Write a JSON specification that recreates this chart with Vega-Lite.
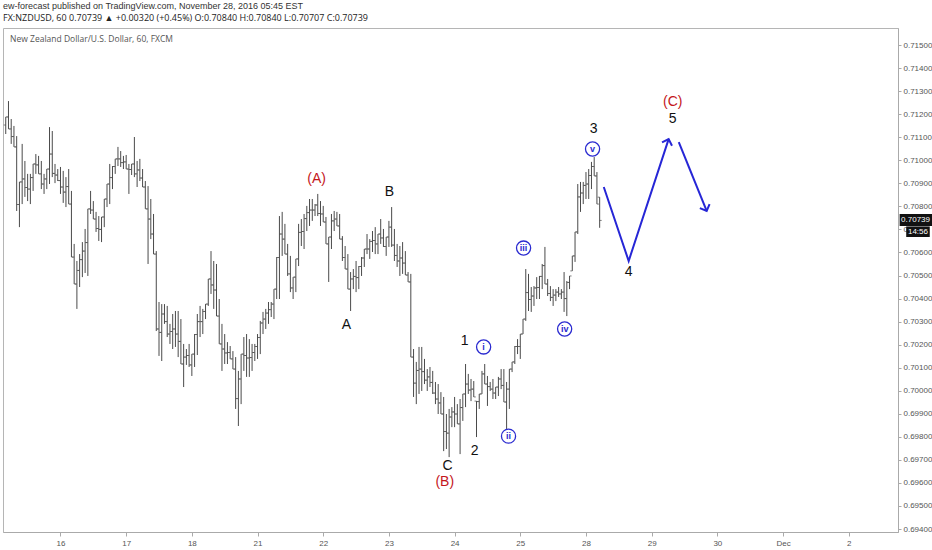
{
"$schema":"https://vega.github.io/schema/vega-lite/v6.json",
"width":895,"height":504,
"padding":{"left":3,"top":2,"right":0,"bottom":0},
"background":"white",
"title":{"text":"ew-forecast published on TradingView.com, November 28, 2016 05:45 EST","subtitle":"FX:NZDUSD, 60  0.70739 ▲ +0.00320 (+0.45%)  O:0.70840  H:0.70840  L:0.70707  C:0.70739","anchor":"start","frame":"group","fontSize":9,"fontWeight":"normal","color":"#333","font":"Liberation Sans Narrow, Liberation Sans","subtitleFont":"Open Sans","subtitleFontSize":9,"subtitleColor":"#222","subtitlePadding":3,"offset":5},
"config":{"view":{"stroke":"#b5b5b5"},"font":"Liberation Sans","axis":{"labelOverlap":false,"labelBound":false,"labelFlush":false},"axisY":{"labelOverlap":false,"tickCount":22,"format":".5f"}},
"datasets":{
"bars":[
{"h":-20,"o":0.71153,"hi":0.71188,"lo":0.71114,"c":0.71188},
{"h":-19,"o":0.71188,"hi":0.71257,"lo":0.71136,"c":0.71136},
{"h":-18,"o":0.71136,"hi":0.71179,"lo":0.71071,"c":0.71103},
{"h":-17,"o":0.71103,"hi":0.71149,"lo":0.71058,"c":0.71058},
{"h":-16,"o":0.71058,"hi":0.71105,"lo":0.70780,"c":0.70808},
{"h":-15,"o":0.70808,"hi":0.70906,"lo":0.70710,"c":0.70906},
{"h":-14,"o":0.70906,"hi":0.71071,"lo":0.70810,"c":0.70919},
{"h":-13,"o":0.70919,"hi":0.70997,"lo":0.70841,"c":0.70882},
{"h":-12,"o":0.70882,"hi":0.70941,"lo":0.70823,"c":0.70875},
{"h":-11,"o":0.70875,"hi":0.70941,"lo":0.70810,"c":0.70925},
{"h":-10,"o":0.70925,"hi":0.70984,"lo":0.70867,"c":0.70984},
{"h":-9,"o":0.70984,"hi":0.71027,"lo":0.70941,"c":0.70980},
{"h":-8,"o":0.70980,"hi":0.71019,"lo":0.70941,"c":0.70941},
{"h":-7,"o":0.70941,"hi":0.70997,"lo":0.70875,"c":0.70897},
{"h":-6,"o":0.70897,"hi":0.70941,"lo":0.70854,"c":0.70919},
{"h":-5,"o":0.70919,"hi":0.70962,"lo":0.70875,"c":0.70962},
{"h":-4,"o":0.70962,"hi":0.71144,"lo":0.70897,"c":0.71027},
{"h":-3,"o":0.71027,"hi":0.71127,"lo":0.70927,"c":0.70943},
{"h":-2,"o":0.70943,"hi":0.70984,"lo":0.70901,"c":0.70936},
{"h":-1,"o":0.70936,"hi":0.70962,"lo":0.70910,"c":0.70912},
{"h":0,"o":0.70912,"hi":0.70971,"lo":0.70854,"c":0.70884},
{"h":1,"o":0.70884,"hi":0.70954,"lo":0.70815,"c":0.70862},
{"h":2,"o":0.70862,"hi":0.70927,"lo":0.70797,"c":0.70886},
{"h":3,"o":0.70886,"hi":0.70962,"lo":0.70810,"c":0.70810},
{"h":4,"o":0.70810,"hi":0.70867,"lo":0.70580,"c":0.70580},
{"h":5,"o":0.70580,"hi":0.70637,"lo":0.70463,"c":0.70463},
{"h":6,"o":0.70463,"hi":0.70563,"lo":0.70355,"c":0.70522},
{"h":7,"o":0.70522,"hi":0.70593,"lo":0.70450,"c":0.70569},
{"h":8,"o":0.70569,"hi":0.70645,"lo":0.70493,"c":0.70606},
{"h":9,"o":0.70606,"hi":0.70702,"lo":0.70511,"c":0.70643},
{"h":10,"o":0.70643,"hi":0.70789,"lo":0.70498,"c":0.70789},
{"h":11,"o":0.70789,"hi":0.70867,"lo":0.70767,"c":0.70784},
{"h":12,"o":0.70784,"hi":0.70823,"lo":0.70745,"c":0.70745},
{"h":13,"o":0.70745,"hi":0.70776,"lo":0.70689,"c":0.70704},
{"h":14,"o":0.70704,"hi":0.70758,"lo":0.70650,"c":0.70700},
{"h":15,"o":0.70700,"hi":0.70754,"lo":0.70645,"c":0.70754},
{"h":16,"o":0.70754,"hi":0.70832,"lo":0.70710,"c":0.70832},
{"h":17,"o":0.70832,"hi":0.70897,"lo":0.70797,"c":0.70897},
{"h":18,"o":0.70897,"hi":0.70984,"lo":0.70810,"c":0.70925},
{"h":19,"o":0.70925,"hi":0.70975,"lo":0.70875,"c":0.70973},
{"h":20,"o":0.70973,"hi":0.71006,"lo":0.70941,"c":0.71006},
{"h":21,"o":0.71006,"hi":0.71058,"lo":0.70975,"c":0.71006},
{"h":22,"o":0.71006,"hi":0.71040,"lo":0.70971,"c":0.70990},
{"h":23,"o":0.70990,"hi":0.71019,"lo":0.70962,"c":0.70993},
{"h":24,"o":0.70993,"hi":0.71023,"lo":0.70962,"c":0.70962},
{"h":25,"o":0.70962,"hi":0.70984,"lo":0.70854,"c":0.70960},
{"h":26,"o":0.70960,"hi":0.70984,"lo":0.70936,"c":0.70984},
{"h":27,"o":0.70984,"hi":0.71101,"lo":0.70927,"c":0.70941},
{"h":28,"o":0.70941,"hi":0.70997,"lo":0.70884,"c":0.70958},
{"h":29,"o":0.70958,"hi":0.71006,"lo":0.70910,"c":0.70923},
{"h":30,"o":0.70923,"hi":0.70962,"lo":0.70884,"c":0.70884},
{"h":31,"o":0.70884,"hi":0.70910,"lo":0.70789,"c":0.70789},
{"h":32,"o":0.70789,"hi":0.70888,"lo":0.70550,"c":0.70745},
{"h":33,"o":0.70745,"hi":0.70832,"lo":0.70658,"c":0.70680},
{"h":34,"o":0.70680,"hi":0.70767,"lo":0.70593,"c":0.70593},
{"h":35,"o":0.70593,"hi":0.70606,"lo":0.70259,"c":0.70268},
{"h":36,"o":0.70268,"hi":0.70385,"lo":0.70151,"c":0.70253},
{"h":37,"o":0.70253,"hi":0.70376,"lo":0.70129,"c":0.70333},
{"h":38,"o":0.70333,"hi":0.70376,"lo":0.70290,"c":0.70300},
{"h":39,"o":0.70300,"hi":0.70368,"lo":0.70233,"c":0.70246},
{"h":40,"o":0.70246,"hi":0.70290,"lo":0.70203,"c":0.70257},
{"h":41,"o":0.70257,"hi":0.70333,"lo":0.70181,"c":0.70268},
{"h":42,"o":0.70268,"hi":0.70346,"lo":0.70190,"c":0.70246},
{"h":43,"o":0.70246,"hi":0.70346,"lo":0.70146,"c":0.70214},
{"h":44,"o":0.70214,"hi":0.70311,"lo":0.70116,"c":0.70116},
{"h":45,"o":0.70116,"hi":0.70203,"lo":0.70016,"c":0.70146},
{"h":46,"o":0.70146,"hi":0.70181,"lo":0.70112,"c":0.70153},
{"h":47,"o":0.70153,"hi":0.70203,"lo":0.70103,"c":0.70112},
{"h":48,"o":0.70112,"hi":0.70159,"lo":0.70064,"c":0.70159},
{"h":49,"o":0.70159,"hi":0.70246,"lo":0.70103,"c":0.70244},
{"h":50,"o":0.70244,"hi":0.70333,"lo":0.70155,"c":0.70300},
{"h":51,"o":0.70300,"hi":0.70368,"lo":0.70233,"c":0.70300},
{"h":52,"o":0.70300,"hi":0.70355,"lo":0.70246,"c":0.70344},
{"h":53,"o":0.70344,"hi":0.70376,"lo":0.70311,"c":0.70376},
{"h":54,"o":0.70376,"hi":0.70485,"lo":0.70368,"c":0.70485},
{"h":55,"o":0.70485,"hi":0.70606,"lo":0.70420,"c":0.70459},
{"h":56,"o":0.70459,"hi":0.70563,"lo":0.70355,"c":0.70437},
{"h":57,"o":0.70437,"hi":0.70550,"lo":0.70324,"c":0.70324},
{"h":58,"o":0.70324,"hi":0.70398,"lo":0.70203,"c":0.70203},
{"h":59,"o":0.70203,"hi":0.70290,"lo":0.70086,"c":0.70181},
{"h":60,"o":0.70181,"hi":0.70246,"lo":0.70116,"c":0.70164},
{"h":61,"o":0.70164,"hi":0.70211,"lo":0.70116,"c":0.70166},
{"h":62,"o":0.70166,"hi":0.70194,"lo":0.70138,"c":0.70138},
{"h":63,"o":0.70138,"hi":0.70172,"lo":0.70094,"c":0.70094},
{"h":64,"o":0.70094,"hi":0.70146,"lo":0.69921,"c":0.69966},
{"h":65,"o":0.69966,"hi":0.70086,"lo":0.69847,"c":0.70051},
{"h":66,"o":0.70051,"hi":0.70159,"lo":0.69942,"c":0.70159},
{"h":67,"o":0.70159,"hi":0.70233,"lo":0.70086,"c":0.70153},
{"h":68,"o":0.70153,"hi":0.70246,"lo":0.70060,"c":0.70142},
{"h":69,"o":0.70142,"hi":0.70224,"lo":0.70060,"c":0.70144},
{"h":70,"o":0.70144,"hi":0.70203,"lo":0.70086,"c":0.70166},
{"h":71,"o":0.70166,"hi":0.70203,"lo":0.70129,"c":0.70192},
{"h":72,"o":0.70192,"hi":0.70246,"lo":0.70138,"c":0.70231},
{"h":73,"o":0.70231,"hi":0.70303,"lo":0.70159,"c":0.70294},
{"h":74,"o":0.70294,"hi":0.70342,"lo":0.70246,"c":0.70311},
{"h":75,"o":0.70311,"hi":0.70355,"lo":0.70268,"c":0.70337},
{"h":76,"o":0.70337,"hi":0.70385,"lo":0.70290,"c":0.70352},
{"h":77,"o":0.70352,"hi":0.70385,"lo":0.70320,"c":0.70376},
{"h":78,"o":0.70376,"hi":0.70441,"lo":0.70311,"c":0.70441},
{"h":79,"o":0.70441,"hi":0.70580,"lo":0.70398,"c":0.70578},
{"h":80,"o":0.70578,"hi":0.70758,"lo":0.70398,"c":0.70680},
{"h":81,"o":0.70680,"hi":0.70776,"lo":0.70585,"c":0.70658},
{"h":82,"o":0.70658,"hi":0.70724,"lo":0.70593,"c":0.70593},
{"h":83,"o":0.70593,"hi":0.70637,"lo":0.70498,"c":0.70507},
{"h":84,"o":0.70507,"hi":0.70585,"lo":0.70428,"c":0.70446},
{"h":85,"o":0.70446,"hi":0.70493,"lo":0.70398,"c":0.70493},
{"h":86,"o":0.70493,"hi":0.70572,"lo":0.70428,"c":0.70572},
{"h":87,"o":0.70572,"hi":0.70724,"lo":0.70541,"c":0.70687},
{"h":88,"o":0.70687,"hi":0.70745,"lo":0.70628,"c":0.70691},
{"h":89,"o":0.70691,"hi":0.70767,"lo":0.70615,"c":0.70747},
{"h":90,"o":0.70747,"hi":0.70802,"lo":0.70693,"c":0.70773},
{"h":91,"o":0.70773,"hi":0.70832,"lo":0.70715,"c":0.70784},
{"h":92,"o":0.70784,"hi":0.70832,"lo":0.70737,"c":0.70784},
{"h":93,"o":0.70784,"hi":0.70810,"lo":0.70758,"c":0.70806},
{"h":94,"o":0.70806,"hi":0.70854,"lo":0.70758,"c":0.70769},
{"h":95,"o":0.70769,"hi":0.70823,"lo":0.70715,"c":0.70767},
{"h":96,"o":0.70767,"hi":0.70802,"lo":0.70732,"c":0.70732},
{"h":97,"o":0.70732,"hi":0.70754,"lo":0.70637,"c":0.70637},
{"h":98,"o":0.70637,"hi":0.70667,"lo":0.70472,"c":0.70667},
{"h":99,"o":0.70667,"hi":0.70767,"lo":0.70615,"c":0.70737},
{"h":100,"o":0.70737,"hi":0.70780,"lo":0.70693,"c":0.70745},
{"h":101,"o":0.70745,"hi":0.70776,"lo":0.70715,"c":0.70715},
{"h":102,"o":0.70715,"hi":0.70767,"lo":0.70658,"c":0.70658},
{"h":103,"o":0.70658,"hi":0.70671,"lo":0.70563,"c":0.70578},
{"h":104,"o":0.70578,"hi":0.70628,"lo":0.70528,"c":0.70528},
{"h":105,"o":0.70528,"hi":0.70593,"lo":0.70441,"c":0.70441},
{"h":106,"o":0.70441,"hi":0.70515,"lo":0.70346,"c":0.70485},
{"h":107,"o":0.70485,"hi":0.70528,"lo":0.70441,"c":0.70496},
{"h":108,"o":0.70496,"hi":0.70563,"lo":0.70428,"c":0.70491},
{"h":109,"o":0.70491,"hi":0.70541,"lo":0.70441,"c":0.70539},
{"h":110,"o":0.70539,"hi":0.70580,"lo":0.70498,"c":0.70576},
{"h":111,"o":0.70576,"hi":0.70615,"lo":0.70537,"c":0.70615},
{"h":112,"o":0.70615,"hi":0.70680,"lo":0.70593,"c":0.70615},
{"h":113,"o":0.70615,"hi":0.70658,"lo":0.70572,"c":0.70648},
{"h":114,"o":0.70648,"hi":0.70693,"lo":0.70602,"c":0.70652},
{"h":115,"o":0.70652,"hi":0.70710,"lo":0.70593,"c":0.70637},
{"h":116,"o":0.70637,"hi":0.70680,"lo":0.70593,"c":0.70680},
{"h":117,"o":0.70680,"hi":0.70745,"lo":0.70637,"c":0.70663},
{"h":118,"o":0.70663,"hi":0.70702,"lo":0.70624,"c":0.70626},
{"h":119,"o":0.70626,"hi":0.70667,"lo":0.70585,"c":0.70667},
{"h":120,"o":0.70667,"hi":0.70737,"lo":0.70624,"c":0.70710},
{"h":121,"o":0.70710,"hi":0.70797,"lo":0.70624,"c":0.70632},
{"h":122,"o":0.70632,"hi":0.70702,"lo":0.70563,"c":0.70587},
{"h":123,"o":0.70587,"hi":0.70637,"lo":0.70537,"c":0.70563},
{"h":124,"o":0.70563,"hi":0.70628,"lo":0.70498,"c":0.70576},
{"h":125,"o":0.70576,"hi":0.70645,"lo":0.70507,"c":0.70554},
{"h":126,"o":0.70554,"hi":0.70606,"lo":0.70502,"c":0.70502},
{"h":127,"o":0.70502,"hi":0.70515,"lo":0.70472,"c":0.70472},
{"h":128,"o":0.70472,"hi":0.70507,"lo":0.70146,"c":0.70146},
{"h":129,"o":0.70146,"hi":0.70181,"lo":0.69973,"c":0.70033},
{"h":130,"o":0.70033,"hi":0.70125,"lo":0.69942,"c":0.70088},
{"h":131,"o":0.70088,"hi":0.70190,"lo":0.69986,"c":0.70094},
{"h":132,"o":0.70094,"hi":0.70190,"lo":0.69999,"c":0.70083},
{"h":133,"o":0.70083,"hi":0.70138,"lo":0.70029,"c":0.70046},
{"h":134,"o":0.70046,"hi":0.70094,"lo":0.69999,"c":0.70060},
{"h":135,"o":0.70060,"hi":0.70103,"lo":0.70016,"c":0.70036},
{"h":136,"o":0.70036,"hi":0.70086,"lo":0.69986,"c":0.69990},
{"h":137,"o":0.69990,"hi":0.70038,"lo":0.69942,"c":0.69964},
{"h":138,"o":0.69964,"hi":0.70029,"lo":0.69899,"c":0.69947},
{"h":139,"o":0.69947,"hi":0.69994,"lo":0.69899,"c":0.69899},
{"h":140,"o":0.69899,"hi":0.69973,"lo":0.69738,"c":0.69823},
{"h":141,"o":0.69823,"hi":0.69899,"lo":0.69747,"c":0.69816},
{"h":142,"o":0.69816,"hi":0.69921,"lo":0.69712,"c":0.69886},
{"h":143,"o":0.69886,"hi":0.69929,"lo":0.69842,"c":0.69908},
{"h":144,"o":0.69908,"hi":0.69973,"lo":0.69842,"c":0.69899},
{"h":145,"o":0.69899,"hi":0.69942,"lo":0.69856,"c":0.69856},
{"h":146,"o":0.69856,"hi":0.69964,"lo":0.69725,"c":0.69927},
{"h":147,"o":0.69927,"hi":0.69986,"lo":0.69869,"c":0.69986},
{"h":148,"o":0.69986,"hi":0.70116,"lo":0.69929,"c":0.70029},
{"h":149,"o":0.70029,"hi":0.70073,"lo":0.69986,"c":0.70003},
{"h":150,"o":0.70003,"hi":0.70051,"lo":0.69955,"c":0.70007},
{"h":151,"o":0.70007,"hi":0.70042,"lo":0.69973,"c":0.69973},
{"h":152,"o":0.69955,"hi":0.69955,"lo":0.69799,"c":0.69953},
{"h":153,"o":0.69953,"hi":0.69986,"lo":0.69921,"c":0.69986},
{"h":154,"o":0.69986,"hi":0.70086,"lo":0.69986,"c":0.70073},
{"h":155,"o":0.70073,"hi":0.70116,"lo":0.70029,"c":0.70029},
{"h":156,"o":0.70029,"hi":0.70064,"lo":0.69934,"c":0.70018},
{"h":157,"o":0.70018,"hi":0.70038,"lo":0.69999,"c":0.70007},
{"h":158,"o":0.70007,"hi":0.70051,"lo":0.69964,"c":0.69990},
{"h":159,"o":0.69990,"hi":0.70016,"lo":0.69964,"c":0.70016},
{"h":160,"o":0.70016,"hi":0.70060,"lo":0.69977,"c":0.70051},
{"h":161,"o":0.70051,"hi":0.70094,"lo":0.70007,"c":0.70023},
{"h":162,"o":0.70023,"hi":0.70094,"lo":0.69951,"c":0.69951},
{"h":163,"o":0.69951,"hi":0.70038,"lo":0.69834,"c":0.70007},
{"h":164,"o":0.70007,"hi":0.70094,"lo":0.69921,"c":0.70094},
{"h":165,"o":0.70094,"hi":0.70125,"lo":0.70081,"c":0.70125},
{"h":166,"o":0.70125,"hi":0.70194,"lo":0.70116,"c":0.70192},
{"h":167,"o":0.70192,"hi":0.70224,"lo":0.70159,"c":0.70192},
{"h":168,"o":0.70192,"hi":0.70246,"lo":0.70138,"c":0.70246},
{"h":169,"o":0.70246,"hi":0.70311,"lo":0.70246,"c":0.70311},
{"h":170,"o":0.70311,"hi":0.70528,"lo":0.70303,"c":0.70426},
{"h":171,"o":0.70426,"hi":0.70507,"lo":0.70346,"c":0.70396},
{"h":172,"o":0.70396,"hi":0.70450,"lo":0.70342,"c":0.70411},
{"h":173,"o":0.70411,"hi":0.70454,"lo":0.70368,"c":0.70446},
{"h":174,"o":0.70446,"hi":0.70493,"lo":0.70398,"c":0.70448},
{"h":175,"o":0.70448,"hi":0.70498,"lo":0.70398,"c":0.70496},
{"h":176,"o":0.70496,"hi":0.70550,"lo":0.70441,"c":0.70543},
{"h":177,"o":0.70543,"hi":0.70624,"lo":0.70463,"c":0.70463},
{"h":178,"o":0.70463,"hi":0.70485,"lo":0.70411,"c":0.70422},
{"h":179,"o":0.70422,"hi":0.70454,"lo":0.70389,"c":0.70405},
{"h":180,"o":0.70405,"hi":0.70441,"lo":0.70368,"c":0.70415},
{"h":181,"o":0.70415,"hi":0.70441,"lo":0.70389,"c":0.70428},
{"h":182,"o":0.70428,"hi":0.70450,"lo":0.70407,"c":0.70420},
{"h":183,"o":0.70420,"hi":0.70441,"lo":0.70398,"c":0.70428},
{"h":184,"o":0.70428,"hi":0.70515,"lo":0.70342,"c":0.70400},
{"h":185,"o":0.70400,"hi":0.70476,"lo":0.70324,"c":0.70470},
{"h":186,"o":0.70470,"hi":0.70498,"lo":0.70441,"c":0.70498},
{"h":187,"o":0.70520,"hi":0.70585,"lo":0.70520,"c":0.70585},
{"h":188,"o":0.70585,"hi":0.70689,"lo":0.70559,"c":0.70689},
{"h":189,"o":0.70689,"hi":0.70897,"lo":0.70680,"c":0.70841},
{"h":190,"o":0.70841,"hi":0.70906,"lo":0.70776,"c":0.70858},
{"h":191,"o":0.70858,"hi":0.70906,"lo":0.70810,"c":0.70891},
{"h":192,"o":0.70891,"hi":0.70949,"lo":0.70832,"c":0.70897},
{"h":193,"o":0.70897,"hi":0.70962,"lo":0.70832,"c":0.70934},
{"h":194,"o":0.70934,"hi":0.70993,"lo":0.70875,"c":0.70973},
{"h":195,"o":0.70973,"hi":0.71014,"lo":0.70932,"c":0.70932},
{"h":196,"o":0.70932,"hi":0.70949,"lo":0.70810,"c":0.70810},
{"h":197,"o":0.70840,"hi":0.70840,"lo":0.70707,"c":0.70739}
],
"path":[
{"seg":"a","pt":"s1","h":198.5,"p":0.70884},
{"seg":"a","pt":"m1","h":207.6,"p":0.70563},
{"seg":"a","pt":"tip1","h":222.2,"p":0.71092},
{"seg":"b","pt":"s2","h":225.9,"p":0.71079},
{"seg":"b","pt":"tip2","h":236.1,"p":0.70780}
],
"black":[
{"h":120.2,"p":0.70862,"t":"B"},
{"h":104.5,"p":0.70285,"t":"A"},
{"h":141.4,"p":0.69673,"t":"C"},
{"h":147.7,"p":0.70216,"t":"1"},
{"h":151.3,"p":0.69738,"t":"2"},
{"h":194.8,"p":0.71136,"t":"3"},
{"h":207.6,"p":0.70515,"t":"4"},
{"h":223.7,"p":0.71179,"t":"5"}
],
"red":[
{"h":93.6,"p":0.70919,"t":"(A)"},
{"h":140.4,"p":0.69604,"t":"(B)"},
{"h":223.7,"p":0.71253,"t":"(C)"}
],
"circ":[
{"h":154.6,"p":0.70190,"t":"i"},
{"h":163.7,"p":0.69803,"t":"ii"},
{"h":169.2,"p":0.70619,"t":"iii"},
{"h":184.2,"p":0.70268,"t":"iv"},
{"h":194.4,"p":0.71049,"t":"v"}
],
"hdr":[{"h":-18.4,"p":0.71526,"t":"New Zealand Dollar/U.S. Dollar, 60, FXCM"}],
"pbox":[
{"h1":306.6,"h2":318.6,"p1":0.70767,"p2":0.70715,"th":312.4,"tp":0.70741,"t":"0.70739"},
{"h1":309.0,"h2":317.6,"p1":0.70713,"p2":0.70667,"th":313.3,"tp":0.70690,"t":"14:56"}
]
},
"layer":[
{"data":{"name":"bars"},"mark":{"type":"rule","color":"#4a4a4a","strokeWidth":1},
 "encoding":{
  "x":{"field":"h","type":"quantitative","scale":{"domain":[-21,306],"nice":false,"zero":false},
   "axis":{"orient":"bottom","title":null,"grid":false,"values":[0,24,48,72,96,120,144,168,192,216,240,264,288],"labelExpr":"['16','17','18','21','22','23','24','25','28','29','30','Dec','2'][round(datum.value/24)]","labelFontSize":8,"labelColor":"#555","tickSize":4,"tickColor":"#aaa","domainColor":"#aaa","labelPadding":3,"labelFont":"Liberation Sans"}},
  "y":{"field":"hi","type":"quantitative","scale":{"domain":[0.69387,0.71574],"nice":false,"zero":false},
   "axis":{"orient":"right","title":null,"grid":false,"tickCount":22,"values":[0.694,0.695,0.696,0.697,0.698,0.699,0.700,0.701,0.702,0.703,0.704,0.705,0.706,0.707,0.708,0.709,0.710,0.711,0.712,0.713,0.714,0.715],"format":".5f","labelExpr":"abs(datum.value - 0.707) < 0.00001 ? '0' : format(datum.value, '.5f')","labelFontSize":8,"labelColor":"#555","tickSize":3,"tickColor":"#aaa","domainColor":"#aaa","labelPadding":2,"labelOverlap":false,"labelFont":"Liberation Sans"}},
  "y2":{"field":"lo"}}},
{"data":{"name":"bars"},"mark":{"type":"tick","orient":"horizontal","size":2,"thickness":1,"xOffset":-1,"color":"#4a4a4a"},
 "encoding":{"x":{"field":"h","type":"quantitative","title":null},"y":{"field":"o","type":"quantitative","title":null}}},
{"data":{"name":"bars"},"mark":{"type":"tick","orient":"horizontal","size":2,"thickness":1,"xOffset":1,"color":"#4a4a4a"},
 "encoding":{"x":{"field":"h","type":"quantitative","title":null},"y":{"field":"c","type":"quantitative","title":null}}},
{"data":{"name":"path"},"mark":{"type":"line","color":"#2626d6","strokeWidth":2},
 "encoding":{"x":{"field":"h","type":"quantitative","title":null},"y":{"field":"p","type":"quantitative","title":null},"detail":{"field":"seg"}}},
{"data":{"name":"path"},"transform":[{"filter":"datum.pt == 'tip1'"}],"mark":{"type":"point","shape":"M-1,1L0,0L1,1","filled":false,"stroke":"#2626d6","strokeWidth":2,"size":110,"angle":18,"opacity":1},
 "encoding":{"x":{"field":"h","type":"quantitative","title":null},"y":{"field":"p","type":"quantitative","title":null}}},
{"data":{"name":"path"},"transform":[{"filter":"datum.pt == 'tip2'"}],"mark":{"type":"point","shape":"M-1,1L0,0L1,1","filled":false,"stroke":"#2626d6","strokeWidth":2,"size":110,"angle":158,"opacity":1},
 "encoding":{"x":{"field":"h","type":"quantitative","title":null},"y":{"field":"p","type":"quantitative","title":null}}},
{"data":{"name":"circ"},"mark":{"type":"point","shape":"circle","filled":false,"stroke":"#2b2bd0","strokeWidth":1.3,"size":200,"opacity":1},
 "encoding":{"x":{"field":"h","type":"quantitative","title":null},"y":{"field":"p","type":"quantitative","title":null}}},
{"data":{"name":"circ"},"mark":{"type":"text","color":"#2b2bd0","fontSize":9,"fontWeight":"bold","font":"Liberation Sans","baseline":"middle","align":"center"},
 "encoding":{"x":{"field":"h","type":"quantitative","title":null},"y":{"field":"p","type":"quantitative","title":null},"text":{"field":"t"}}},
{"data":{"name":"black"},"mark":{"type":"text","color":"#111","fontSize":14,"font":"Liberation Sans","baseline":"middle","align":"center"},
 "encoding":{"x":{"field":"h","type":"quantitative","title":null},"y":{"field":"p","type":"quantitative","title":null},"text":{"field":"t"}}},
{"data":{"name":"red"},"mark":{"type":"text","color":"#c4161c","fontSize":14,"font":"Liberation Sans","baseline":"middle","align":"center"},
 "encoding":{"x":{"field":"h","type":"quantitative","title":null},"y":{"field":"p","type":"quantitative","title":null},"text":{"field":"t"}}},
{"data":{"name":"hdr"},"mark":{"type":"text","color":"#555","fontSize":8.5,"font":"Open Sans","baseline":"middle","align":"left"},
 "encoding":{"x":{"field":"h","type":"quantitative","title":null},"y":{"field":"p","type":"quantitative","title":null},"text":{"field":"t"}}},
{"data":{"name":"pbox"},"mark":{"type":"rect","color":"#111"},
 "encoding":{"x":{"field":"h1","type":"quantitative","title":null},"x2":{"field":"h2"},"y":{"field":"p1","type":"quantitative","title":null},"y2":{"field":"p2"}}},
{"data":{"name":"pbox"},"mark":{"type":"text","color":"white","fontSize":8,"font":"Liberation Sans","baseline":"middle","align":"center"},
 "encoding":{"x":{"field":"th","type":"quantitative","title":null},"y":{"field":"tp","type":"quantitative","title":null},"text":{"field":"t"}}}
]
}
